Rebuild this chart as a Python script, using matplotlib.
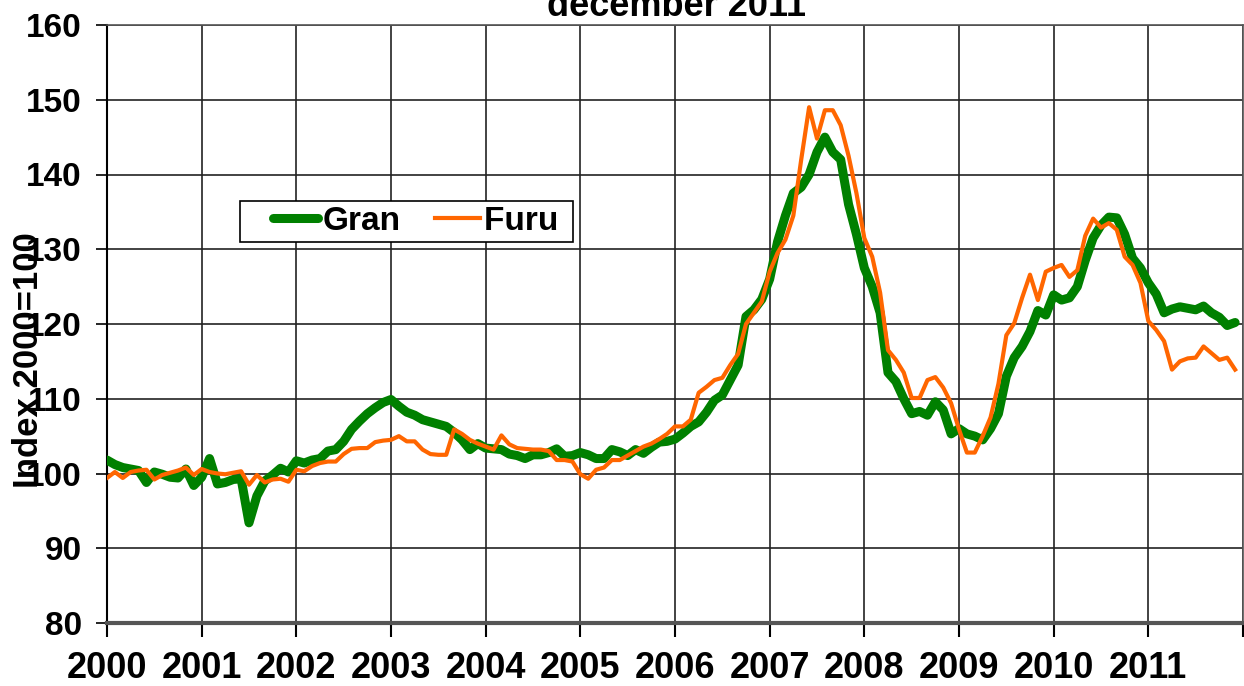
import numpy as np
import matplotlib
matplotlib.use("Agg")
import matplotlib.pyplot as plt
from matplotlib.legend_handler import HandlerLine2D

plt.rcParams['font.family'] = ['Liberation Sans', 'DejaVu Sans']
plt.rcParams['font.weight'] = 'bold'

# monthly index values, jan 2000 - dec 2011 (2000=100)
gran = [101.8, 101.2, 100.8, 100.6, 100.4, 98.8, 100.2, 99.9, 99.5, 99.4, 100.6, 98.4,
        99.5, 102.0, 98.6, 98.8, 99.2, 99.3, 93.4, 97.0, 99.0, 99.8, 100.7, 100.2,
        101.7, 101.4, 101.8, 102.0, 103.0, 103.2, 104.3, 105.9, 107.0, 108.0, 108.8, 109.5,
        109.9, 109.0, 108.2, 107.8, 107.2, 106.9, 106.6, 106.3, 105.5, 104.5, 103.2, 104.0,
        103.4, 103.3, 103.2, 102.6, 102.4, 102.0, 102.5, 102.5, 102.8, 103.3, 102.3, 102.4,
        102.8, 102.5, 102.0, 102.0, 103.2, 102.9, 102.4, 103.2, 102.7, 103.5, 104.2, 104.3,
        104.6, 105.4, 106.3, 106.9, 108.2, 109.8, 110.5, 112.5, 114.5, 121.0, 121.9, 123.3,
        126.0, 131.0, 134.5, 137.5, 138.3, 140.0, 143.0, 145.0, 143.0, 142.0, 136.0, 132.0,
        127.5, 125.0, 121.5, 113.5, 112.3, 110.0, 108.0, 108.3, 107.8, 109.6, 108.5, 105.3,
        106.0, 105.3, 105.0, 104.5, 106.0, 108.0, 113.0, 115.5, 117.0, 119.0, 121.8, 121.2,
        123.9, 123.2, 123.5, 125.0, 128.5, 131.5, 133.2, 134.3, 134.2, 132.0, 128.8, 127.5,
        125.5, 124.0, 121.5, 122.0, 122.3, 122.1, 121.9, 122.4, 121.5, 120.9, 119.8, 120.2]

furu = [99.4, 100.2, 99.4, 100.2, 100.4, 100.5, 99.2, 99.8, 100.1, 100.4, 100.8, 99.8,
        100.6, 100.2, 100.0, 99.9, 100.1, 100.3, 98.5, 99.8, 98.8, 99.2, 99.3, 98.9,
        100.5, 100.3, 101.0, 101.4, 101.6, 101.6, 102.6, 103.3, 103.4, 103.4, 104.2, 104.4,
        104.5, 105.0, 104.3, 104.3, 103.2, 102.6, 102.5, 102.5, 105.9, 105.3, 104.5, 104.0,
        103.6, 103.2, 105.1, 103.9, 103.4, 103.3, 103.2, 103.2, 103.0, 101.8, 101.8, 101.6,
        99.9, 99.3, 100.5, 100.8, 101.8, 101.8, 102.4, 103.0, 103.6, 104.0, 104.6, 105.3,
        106.3, 106.3, 107.2, 110.8, 111.6, 112.5, 112.8, 114.5, 116.0, 120.0, 121.5, 123.0,
        127.0, 129.5, 131.3, 134.5, 142.0, 149.0, 144.8, 148.6, 148.6, 146.6, 142.5, 137.5,
        131.5, 129.0, 124.2, 116.5, 115.2, 113.5, 110.1, 110.1, 112.5, 112.9, 111.5, 109.4,
        105.9, 102.8, 102.8, 105.0, 107.5, 112.0, 118.5, 120.1, 123.5, 126.6, 123.2, 127.0,
        127.5, 127.9, 126.3, 127.2, 131.8, 134.1, 132.9, 133.5, 132.6, 129.0, 127.9, 125.5,
        120.4, 119.2, 117.7, 113.9, 115.0, 115.4, 115.5, 117.0, 116.1, 115.2, 115.5, 113.9]

years = list(range(2000, 2013))
year_labels = [str(y) for y in range(2000, 2012)] + [""]

t = 2000 + np.arange(len(gran)) / 12.0


class PaddedLine(HandlerLine2D):
    # legend line drawn only in the right part of the handle box
    def create_artists(self, legend, orig_handle, xdescent, ydescent, width, height,
                       fontsize, trans):
        pad = 20
        return super().create_artists(legend, orig_handle, xdescent - pad, ydescent,
                                      width - pad, height, fontsize, trans)


fig = plt.figure(figsize=(12.44, 6.86), dpi=100)
ax = fig.add_axes([107/1244, 63/686, 1136/1244, 598/686])

l1, = ax.plot(t, gran, color="#008000", lw=6.5, label="Gran", solid_capstyle="round", zorder=3)
l2, = ax.plot(t, furu, color="#ff6600", lw=3, label="Furu", zorder=4)

ax.set_xlim(2000, 2012)
ax.set_ylim(80, 160)
ax.set_yticks(range(80, 161, 10))
ax.set_xticks(years)
ax.set_xticklabels(year_labels)
ax.grid(True, color="#222222", lw=1.2)
ax.set_axisbelow(True)

for lab in ax.get_yticklabels():
    lab.set_fontsize(24)
    lab.set_fontweight("bold")
for lab in ax.get_xticklabels():
    lab.set_fontsize(26)
    lab.set_fontweight("bold")
ax.tick_params(axis="y", direction="out", length=8, width=1.2, pad=10)
ax.tick_params(axis="x", direction="out", length=10, width=1.5, pad=10)

ax.spines["left"].set_color("black")
ax.spines["left"].set_linewidth(1.5)
ax.spines["bottom"].set_color("#555555")
ax.spines["bottom"].set_linewidth(3)
ax.spines["top"].set_color("#555555")
ax.spines["top"].set_linewidth(1.2)
ax.spines["right"].set_color("#555555")
ax.spines["right"].set_linewidth(1.2)

leg = ax.legend([l1, l2], ["Gran", "Furu "], loc="upper left",
                bbox_to_anchor=(133/1136, 1 - 176/598), ncol=2,
                prop={"size": 24, "weight": "bold"}, handlelength=2.2,
                handletextpad=0.12, columnspacing=0.2, borderpad=0.15,
                borderaxespad=0, fancybox=False, framealpha=1, edgecolor="black",
                handler_map={l1: PaddedLine(), l2: PaddedLine()})
leg.get_frame().set_linewidth(1.2)

fig.text(29/1244, 1 - 360/686, "Index 2000=100", rotation=90, ha="center", va="center",
         fontsize=25, fontweight="bold")
fig.text(677/1244, 1 - 24/686, "december 2011", ha="center", va="bottom",
         fontsize=26, fontweight="bold")

fig.savefig("out.png", dpi=100)
